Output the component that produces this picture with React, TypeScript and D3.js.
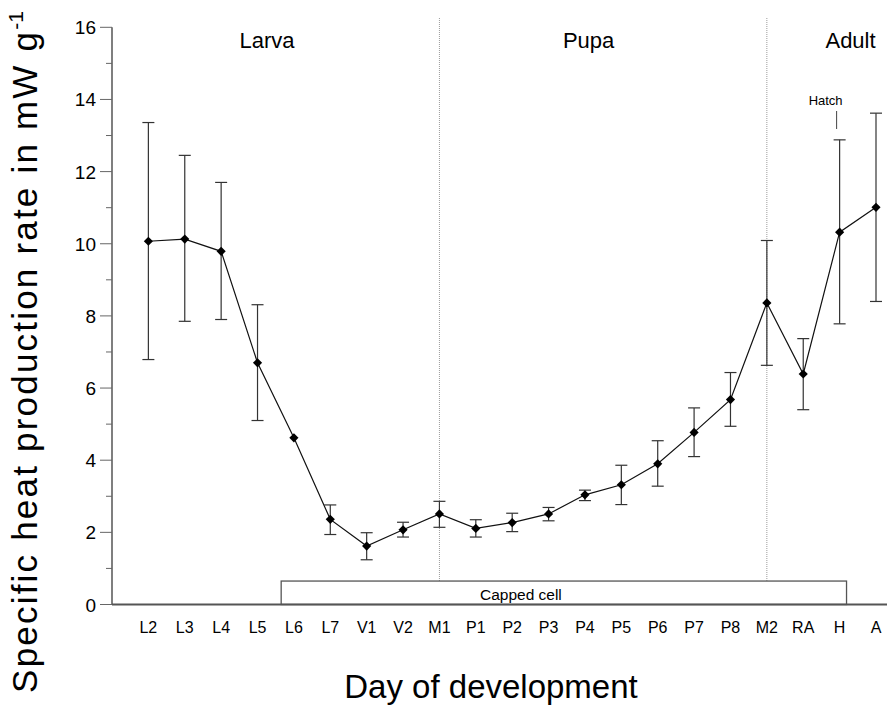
import { useRef, useEffect } from 'react';
import * as d3 from 'd3';

// day-of-development categories along the x axis
const days = ['L2', 'L3', 'L4', 'L5', 'L6', 'L7', 'V1', 'V2', 'M1', 'P1', 'P2', 'P3', 'P4', 'P5', 'P6', 'P7', 'P8', 'M2', 'RA', 'H', 'A'];
// mean specific heat production rate (mW g-1)
const rate = [10.07, 10.13, 9.79, 6.70, 4.62, 2.36, 1.62, 2.07, 2.51, 2.11, 2.27, 2.51, 3.04, 3.32, 3.90, 4.77, 5.68, 8.36, 6.39, 10.32, 11.01];
// error bar ends
const upper = [13.36, 12.45, 11.70, 8.31, null, 2.76, 1.99, 2.28, 2.86, 2.35, 2.53, 2.69, 3.17, 3.86, 4.54, 5.45, 6.43, 10.09, 7.37, 12.88, 13.62];
const lower = [6.79, 7.85, 7.90, 5.10, null, 1.94, 1.24, 1.87, 2.14, 1.87, 2.02, 2.32, 2.88, 2.77, 3.28, 4.10, 4.94, 6.63, 5.40, 7.78, 8.40];

const yTicks = [0, 2, 4, 6, 8, 10, 12, 14, 16];
const yMinorTicks = [1, 3, 5, 7, 9, 11, 13, 15];

// developmental phases (label centre given as position along day index)
const phases = ['Larva', 'Pupa', 'Adult'];
const phaseCenter = [3.26, 12.1, 19.3];
const phaseDividers = ['M1', 'M2'];

// capped cell period, in day-index units, and its bar height in y units
const cappedSpan = [3.65, 19.19];
const cappedHeight = 0.65;

export default function App() {
  const ref = useRef<HTMLDivElement>(null);

  useEffect(() => {
    if (!ref.current) return;
    const width = 887;
    const height = 705;
    const font = 'Arial, "Liberation Sans", Helvetica, sans-serif';

    d3.select(ref.current).selectAll('*').remove();

    const svg = d3.select(ref.current)
      .append('svg')
      .attr('width', width)
      .attr('height', height)
      .style('position', 'absolute')
      .style('left', '0px')
      .style('top', '0px')
      .style('background', '#fff')
      .style('font-family', font);

    const x = d3.scaleLinear().domain([-1, days.length - 1]).range([112, 876]);
    const y = d3.scaleLinear().domain([0, 16]).range([604.5, 27.3]);
    const xi = (d: string) => x(days.indexOf(d));

    // phase dividers
    svg.selectAll('line.divider')
      .data(phaseDividers)
      .enter()
      .append('line')
      .attr('x1', (d) => xi(d))
      .attr('x2', (d) => xi(d))
      .attr('y1', 18)
      .attr('y2', y(0))
      .attr('stroke', '#9a9a9a')
      .attr('stroke-width', 1)
      .attr('stroke-dasharray', '1,1');

    // capped cell bar
    const cx0 = x(cappedSpan[0]);
    const cx1 = x(cappedSpan[1]);
    svg.append('rect')
      .attr('x', cx0)
      .attr('y', y(cappedHeight))
      .attr('width', cx1 - cx0)
      .attr('height', y(0) - y(cappedHeight))
      .attr('fill', '#fff')
      .attr('stroke', '#555')
      .attr('stroke-width', 1.3);

    svg.append('text')
      .attr('x', cx0 + (cx1 - cx0) * 0.424)
      .attr('y', 600)
      .attr('text-anchor', 'middle')
      .style('font-size', '15.5px')
      .text('Capped cell');

    // y axis
    svg.append('line')
      .attr('x1', 112).attr('x2', 112)
      .attr('y1', y(16)).attr('y2', y(0))
      .attr('stroke', '#555').attr('stroke-width', 1.5);

    svg.selectAll('line.ytick')
      .data(yTicks)
      .enter()
      .append('line')
      .attr('x1', 100).attr('x2', 112)
      .attr('y1', (d) => y(d)).attr('y2', (d) => y(d))
      .attr('stroke', '#666').attr('stroke-width', 1);

    svg.selectAll('line.yminor')
      .data(yMinorTicks)
      .enter()
      .append('line')
      .attr('x1', 106).attr('x2', 112)
      .attr('y1', (d) => y(d)).attr('y2', (d) => y(d))
      .attr('stroke', '#666').attr('stroke-width', 1);

    svg.selectAll('text.ylab')
      .data(yTicks)
      .enter()
      .append('text')
      .attr('x', 96)
      .attr('y', (d) => y(d) + 7)
      .attr('text-anchor', 'end')
      .style('font-size', '19px')
      .text((d) => d);

    // x axis
    svg.append('line')
      .attr('x1', 112).attr('x2', width)
      .attr('y1', y(0)).attr('y2', y(0))
      .attr('stroke', '#555').attr('stroke-width', 2);

    svg.selectAll('text.xlab')
      .data(days)
      .enter()
      .append('text')
      .attr('x', (d) => xi(d))
      .attr('y', 633)
      .attr('text-anchor', 'middle')
      .style('font-size', '16px')
      .text((d) => d);

    // axis titles
    svg.append('text')
      .attr('x', 491)
      .attr('y', 698)
      .attr('text-anchor', 'middle')
      .style('font-size', '33px')
      .text('Day of development');

    const yt = svg.append('text')
      .attr('transform', 'translate(37,352) rotate(-90)')
      .attr('text-anchor', 'middle')
      .style('font-size', '35px')
      .style('letter-spacing', '2.2px');
    yt.append('tspan').text('Specific heat production rate in mW g');
    yt.append('tspan')
      .attr('dy', -14)
      .style('font-size', '21px')
      .style('letter-spacing', '0px')
      .text('-1');

    // phase labels
    svg.selectAll('text.phase')
      .data(phases)
      .enter()
      .append('text')
      .attr('x', (d, i) => x(phaseCenter[i]))
      .attr('y', 48)
      .attr('text-anchor', 'middle')
      .style('font-size', '22px')
      .text((d) => d);

    // hatch annotation
    const hx = xi('H');
    svg.append('line')
      .attr('x1', hx - 3).attr('x2', hx - 3)
      .attr('y1', 111).attr('y2', 129)
      .attr('stroke', '#444').attr('stroke-width', 1);
    svg.append('text')
      .attr('x', hx - 14)
      .attr('y', 105)
      .attr('text-anchor', 'middle')
      .style('font-size', '13px')
      .text('Hatch');

    // error bars
    const bars = days
      .map((d, i) => ({ d, hi: upper[i], lo: lower[i] }))
      .filter((b) => b.hi != null && b.lo != null);

    const eb = svg.selectAll('g.err')
      .data(bars)
      .enter()
      .append('g')
      .attr('stroke', '#333')
      .attr('stroke-width', 1.2);
    eb.append('line')
      .attr('x1', (b) => xi(b.d)).attr('x2', (b) => xi(b.d))
      .attr('y1', (b) => y(b.hi as number)).attr('y2', (b) => y(b.lo as number));
    eb.append('line')
      .attr('x1', (b) => xi(b.d) - 6).attr('x2', (b) => xi(b.d) + 6)
      .attr('y1', (b) => y(b.hi as number)).attr('y2', (b) => y(b.hi as number));
    eb.append('line')
      .attr('x1', (b) => xi(b.d) - 6).attr('x2', (b) => xi(b.d) + 6)
      .attr('y1', (b) => y(b.lo as number)).attr('y2', (b) => y(b.lo as number));

    // mean line
    const line = d3.line<number>()
      .x((v, i) => x(i))
      .y((v) => y(v));

    svg.append('path')
      .datum(rate)
      .attr('d', line)
      .attr('fill', 'none')
      .attr('stroke', '#111')
      .attr('stroke-width', 1.2);

    // diamond markers
    const diamond = d3.symbol().type(d3.symbolSquare).size(42);
    svg.selectAll('path.pt')
      .data(rate)
      .enter()
      .append('path')
      .attr('d', diamond)
      .attr('transform', (v, i) => `translate(${x(i)},${y(v)}) rotate(45)`)
      .attr('fill', '#000');
  }, []);

  return <div ref={ref} style={{ width: 887, height: 705 }} />;
}
